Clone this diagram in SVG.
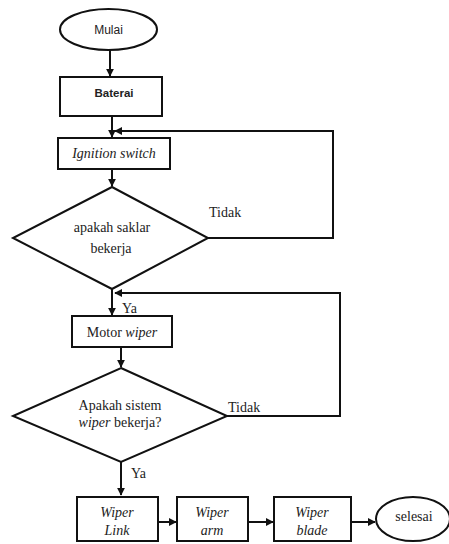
<svg xmlns="http://www.w3.org/2000/svg" width="449" height="544" viewBox="0 0 449 544">
<defs>
<style>
.s{fill:#fff;stroke:#111;stroke-width:2}
.c{fill:none;stroke:#111;stroke-width:2}
.sans{font-family:'Liberation Sans',Arial,sans-serif;fill:#222}
.serif{font-family:'Liberation Serif','DejaVu Serif','Times New Roman',serif;font-size:14px;fill:#222}
.i{font-style:italic}
</style>
<marker id="a" viewBox="0 0 10 10" refX="9" refY="5" markerWidth="4" markerHeight="4" orient="auto-start-reverse" markerUnits="strokeWidth">
<path d="M0,0 L10,5 L0,10 z" fill="#111"/>
</marker>
</defs>
<rect width="449" height="544" fill="#fff"/>
<g id="connectors">
<line class="c" x1="110" y1="50" x2="110" y2="76" marker-end="url(#a)"/>
<line class="c" x1="112" y1="116" x2="112" y2="137" marker-end="url(#a)"/>
<polyline class="c" points="208,238 333,238 333,131 115,131" marker-end="url(#a)"/>
<line class="c" x1="112" y1="169" x2="112" y2="186" marker-end="url(#a)"/>
<line class="c" x1="112" y1="289" x2="112" y2="315" marker-end="url(#a)"/>
<polyline class="c" points="227,416 340,416 340,293 115,293" marker-end="url(#a)"/>
<line class="c" x1="121" y1="347" x2="121" y2="367" marker-end="url(#a)"/>
<line class="c" x1="121" y1="462" x2="121" y2="495" marker-end="url(#a)"/>
<line class="c" x1="158" y1="522" x2="176" y2="522" marker-end="url(#a)"/>
<line class="c" x1="248" y1="522" x2="273" y2="522" marker-end="url(#a)"/>
<line class="c" x1="351" y1="522" x2="375" y2="522" marker-end="url(#a)"/>
<text class="serif" font-family="Liberation Serif, serif" x="209" y="217">Tidak</text>
<text class="serif" font-family="Liberation Serif, serif" x="122" y="313">Ya</text>
<text class="serif" font-family="Liberation Serif, serif" x="228" y="412">Tidak</text>
<text class="serif" font-family="Liberation Serif, serif" x="131" y="478">Ya</text>
</g>
<g id="mulai">
<ellipse class="s" cx="108.5" cy="29.5" rx="48.5" ry="20.5"/>
<text class="sans" x="108.5" y="33.5" font-size="12" text-anchor="middle">Mulai</text>
</g>
<g id="baterai">
<rect class="s" x="60" y="77" width="102" height="39"/>
<text class="sans" x="114" y="97" font-size="11.5" font-weight="bold" text-anchor="middle">Baterai</text>
</g>
<g id="ignition">
<rect class="s" x="58" y="138" width="112" height="31"/>
<text class="serif i" x="114" y="158" text-anchor="middle">Ignition switch</text>
</g>
<g id="saklar">
<polygon class="s" points="112,187 208,238 112,289 13,238"/>
<text class="serif" x="112" y="232" text-anchor="middle">apakah saklar</text>
<text class="serif" x="111" y="253" text-anchor="middle">bekerja</text>
</g>
<g id="motor">
<rect class="s" x="72" y="316" width="100" height="31"/>
<text class="serif" x="122" y="337" text-anchor="middle">Motor <tspan class="i">wiper</tspan></text>
</g>
<g id="sistem">
<polygon class="s" points="121,368 227,416 121,462 13,416"/>
<text class="serif" x="120" y="410" text-anchor="middle">Apakah sistem</text>
<text class="serif" x="120" y="427" text-anchor="middle"><tspan class="i">wiper</tspan> bekerja?</text>
</g>
<g id="link">
<rect class="s" x="77" y="497" width="81" height="44"/>
<text class="serif i" x="117" y="517" text-anchor="middle">Wiper</text>
<text class="serif i" x="117" y="535" text-anchor="middle">Link</text>
</g>
<g id="arm">
<rect class="s" x="177" y="497" width="71" height="44"/>
<text class="serif i" x="212" y="517" text-anchor="middle">Wiper</text>
<text class="serif i" x="212" y="535" text-anchor="middle">arm</text>
</g>
<g id="blade">
<rect class="s" x="274" y="497" width="77" height="44"/>
<text class="serif i" x="312" y="517" text-anchor="middle">Wiper</text>
<text class="serif i" x="312" y="535" text-anchor="middle">blade</text>
</g>
<g id="selesai">
<ellipse class="s" cx="413" cy="519" rx="37" ry="22"/>
<text class="serif" x="414" y="521" text-anchor="middle">selesai</text>
</g>
</svg>
